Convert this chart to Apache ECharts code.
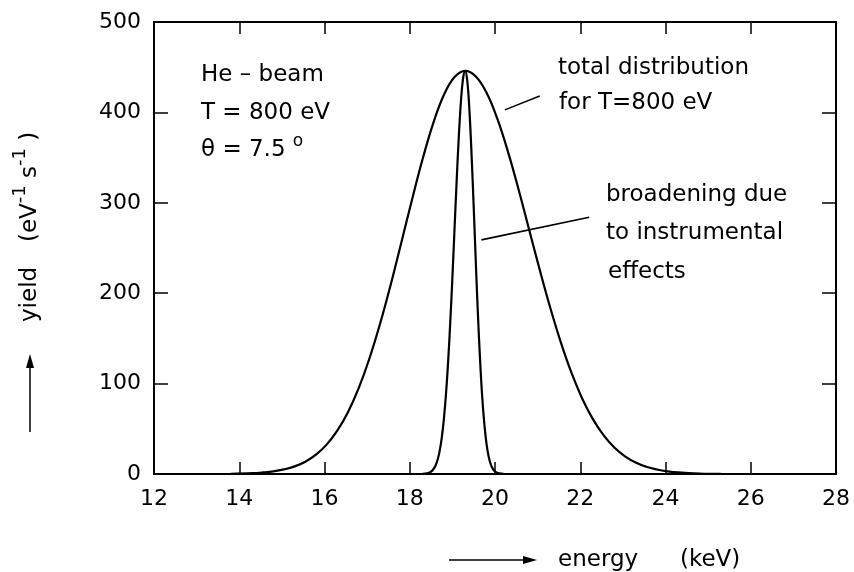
<!DOCTYPE html>
<html><head><meta charset="utf-8">
<script src="https://cdn.jsdelivr.net/npm/echarts@6/dist/echarts.min.js"></script>
<style>html,body{margin:0;padding:0;background:#fff}#c{width:854px;height:572px}</style>
</head><body><div id="c"></div>
<script>
// total distribution for T = 800 eV
const broadX = [13.8, 14.3, 14.55, 14.8, 15.05, 15.3, 15.55, 15.8, 16.05, 16.3, 16.55, 16.8, 17.05, 17.3, 17.55, 17.8, 18.05, 18.3, 18.55, 18.8, 19.05,
  19.3,
  19.55, 19.8, 20.05, 20.3, 20.55, 20.8, 21.05, 21.3, 21.55, 21.8, 22.05, 22.3, 22.55, 22.8, 23.05, 23.3, 23.55, 23.8, 24.05, 24.3, 24.8, 25.3];
const broadY = [0.3, 0.9, 1.7, 2.9, 5.1, 8.4, 13.6, 21.4, 32.5, 47.9, 68.4, 94.7, 127.2, 165.6, 208.9, 255.6, 302.8, 348.1, 387.9, 419.2, 439.1,
  446,
  439.8, 421.9, 393.6, 357.2, 315.3, 270.5, 225.8, 183.3, 144.8, 111.2, 83.0, 60.4, 42.7, 29.3, 19.6, 12.7, 8.0, 5.0, 3.0, 1.7, 0.5, 0.15];
// broadening due to instrumental effects
const narrowX = [18.3, 18.4, 18.45, 18.5, 18.55, 18.6, 18.65, 18.7, 18.75, 18.8, 18.85, 18.9, 18.95, 19.0, 19.05, 19.1, 19.15, 19.2, 19.25,
  19.3,
  19.35, 19.4, 19.45, 19.5, 19.55, 19.6, 19.65, 19.7, 19.75, 19.8, 19.85, 19.9, 19.95, 20.0, 20.05, 20.1, 20.2];
const narrowY = [0.15, 0.7, 1.4, 2.7, 5.0, 8.8, 15.2, 25.0, 39.7, 60.4, 88.2, 124.0, 167.4, 217.1, 270.5, 323.9, 372.5, 411.7, 437.2,
  446,
  434.6, 402.2, 353.5, 295.8, 233.9, 176.0, 126.0, 85.4, 55.1, 33.7, 19.6, 10.8, 5.7, 2.8, 1.3, 0.6, 0.1];
// pointer lines for annotations (data coordinates)
const ptr1X = [20.23, 21.05], ptr1Y = [402.8, 418.2];
const ptr2X = [19.68, 22.21], ptr2Y = [259, 284];

const xMin = 12, xMax = 28, xStep = 2;
const yMin = 0, yMax = 500, yStep = 100;

const zip = (a, b) => a.map((v, i) => [v, b[i]]);
const FF = 'DejaVu Sans';
const FS = 23;
const chart = echarts.init(document.getElementById('c'), null, {renderer: 'canvas'});

const axisCommon = {
  type: 'value',
  axisLine: {show: true, onZero: false, lineStyle: {color: '#000', width: 2}},
  splitLine: {show: false},
  minorTick: {show: false}
};

function txt(x, y, text, extra) {
  return Object.assign({type: 'text', x: x, y: y, silent: true,
    style: {text: text, fontFamily: FF, fontSize: FS, fill: '#000', textAlign: 'left', textVerticalAlign: 'middle'}}, extra || {});
}

chart.setOption({
  animation: false,
  backgroundColor: '#fff',
  grid: {left: 154, top: 22, right: 18, bottom: 98, containLabel: false},
  xAxis: [
    Object.assign({}, axisCommon, {min: xMin, max: xMax, interval: xStep, position: 'bottom',
      axisTick: {show: true, inside: true, length: 12, lineStyle: {color: '#000', width: 1.5}},
      axisLabel: {show: true, margin: 14, color: '#000', fontFamily: FF, fontSize: 22}}),
    Object.assign({}, axisCommon, {min: xMin, max: xMax, interval: xStep, position: 'top',
      axisTick: {show: true, inside: true, length: 12, lineStyle: {color: '#000', width: 1.5}},
      axisLabel: {show: false}})
  ],
  yAxis: [
    Object.assign({}, axisCommon, {min: yMin, max: yMax, interval: yStep, position: 'left',
      axisTick: {show: true, inside: true, length: 14, lineStyle: {color: '#000', width: 1.5}},
      axisLabel: {show: true, margin: 13, color: '#000', fontFamily: FF, fontSize: 22}}),
    Object.assign({}, axisCommon, {min: yMin, max: yMax, interval: yStep, position: 'right',
      axisTick: {show: true, inside: true, length: 14, lineStyle: {color: '#000', width: 1.5}},
      axisLabel: {show: false}})
  ],
  series: [
    {type: 'line', data: zip(broadX, broadY), showSymbol: false, smooth: 0.4,
      lineStyle: {color: '#000', width: 2.2}, z: 3},
    {type: 'line', data: zip(narrowX, narrowY), showSymbol: false, smooth: 0.4,
      lineStyle: {color: '#000', width: 2.2}, z: 3},
    {type: 'line', data: zip(ptr1X, ptr1Y), showSymbol: false, lineStyle: {color: '#000', width: 1.6}},
    {type: 'line', data: zip(ptr2X, ptr2Y), showSymbol: false, lineStyle: {color: '#000', width: 1.6}}
  ],
  graphic: [
    txt(201, 75, 'He \u2013 beam'),
    txt(201, 113, 'T = 800 eV'),
    {type: 'text', x: 201, y: 150, silent: true,
      style: {text: '{n|\u03b8 = 7.5 }{s|o}', fill: '#000', textAlign: 'left', textVerticalAlign: 'middle',
        rich: {n: {fontFamily: FF, fontSize: FS, lineHeight: 34, verticalAlign: 'middle'},
               s: {fontFamily: FF, fontSize: 17, lineHeight: 18, verticalAlign: 'top'}}}},
    txt(558, 68, 'total distribution'),
    txt(559, 103, 'for T=800 eV'),
    txt(606, 195, 'broadening due'),
    txt(606, 233, 'to instrumental'),
    txt(608, 272, 'effects'),
    // y-axis title (rotated)
    txt(30, 322, 'yield', {rotation: Math.PI / 2}),
    {type: 'text', x: 30, y: 242, rotation: Math.PI / 2, silent: true,
      style: {text: '{n|(eV}{s|-1}{n| s}{s|-1}{n| )}', fill: '#000', textAlign: 'left', textVerticalAlign: 'middle',
        rich: {n: {fontFamily: FF, fontSize: FS, lineHeight: 38, verticalAlign: 'middle'},
               s: {fontFamily: FF, fontSize: 18, lineHeight: 18, verticalAlign: 'top'}}}},
    // y arrow
    {type: 'line', silent: true, shape: {x1: 30, y1: 432, x2: 30, y2: 362}, style: {stroke: '#000', lineWidth: 1.5}},
    {type: 'polygon', silent: true, shape: {points: [[30, 354], [26, 368], [34, 368]]}, style: {fill: '#000'}},
    // x-axis title
    {type: 'line', silent: true, shape: {x1: 449, y1: 560, x2: 528, y2: 560}, style: {stroke: '#000', lineWidth: 1.5}},
    {type: 'polygon', silent: true, shape: {points: [[537, 560], [523, 556], [523, 564]]}, style: {fill: '#000'}},
    txt(558, 560, 'energy'),
    txt(680, 560, '(keV)')
  ]
});
</script></body></html>
